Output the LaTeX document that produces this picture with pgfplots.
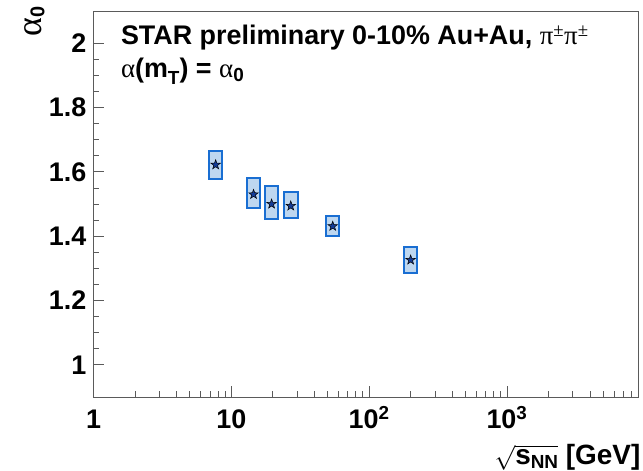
\documentclass[border=0pt]{standalone}
\usepackage{pgfplots}
\pgfplotsset{compat=1.18}
\usepackage{pgfplotstable}
\usepackage{fontspec}
\setmainfont{Liberation Sans}
\newfontfamily\greekfont{Liberation Serif}

\definecolor{boxfill}{RGB}{190,215,240}
\definecolor{boxline}{RGB}{25,110,210}
\definecolor{starfill}{RGB}{20,60,150}
\definecolor{framecol}{RGB}{90,90,90}

% filled five-pointed star marker
\pgfdeclareplotmark{fstar}{%
  \pgfpathmoveto{\pgfpointpolar{90}{\pgfplotmarksize}}%
  \pgfpathlineto{\pgfpointpolar{126}{0.4\pgfplotmarksize}}%
  \pgfpathlineto{\pgfpointpolar{162}{\pgfplotmarksize}}%
  \pgfpathlineto{\pgfpointpolar{198}{0.4\pgfplotmarksize}}%
  \pgfpathlineto{\pgfpointpolar{234}{\pgfplotmarksize}}%
  \pgfpathlineto{\pgfpointpolar{270}{0.4\pgfplotmarksize}}%
  \pgfpathlineto{\pgfpointpolar{306}{\pgfplotmarksize}}%
  \pgfpathlineto{\pgfpointpolar{342}{0.4\pgfplotmarksize}}%
  \pgfpathlineto{\pgfpointpolar{18}{\pgfplotmarksize}}%
  \pgfpathlineto{\pgfpointpolar{54}{0.4\pgfplotmarksize}}%
  \pgfpathclose
  \pgfusepathqfillstroke
}

% sqrt(s_NN) [GeV], alpha_0, systematic range (lo, hi)
\pgfplotstableread{
x     y      lo     hi
7.7   1.622  1.578  1.666
14.5  1.530  1.488  1.580
19.6  1.500  1.452  1.555
27.0  1.494  1.457  1.536
54.4  1.431  1.400  1.462
200   1.326  1.285  1.367
}\alphadata

\newcommand{\bigfont}{\bfseries\fontsize{27}{27}\selectfont}
\newcommand{\labfont}{\bfseries\fontsize{28}{28}\selectfont}

\begin{document}
\begin{tikzpicture}
\path[use as bounding box] (-93.5bp,-74bp) rectangle (549.5bp,397bp);
\begin{axis}[
  at={(0,0)}, anchor=south west,
  scale only axis, width=545bp, height=386bp,
  xmode=log, xmin=1, xmax=9000, ymin=0.9, ymax=2.1,
  axis line style={framecol, line width=0.8bp},
  tick pos=left, tick align=inside,
  major tick length=11bp, minor tick length=6bp,
  every tick/.style={framecol, line width=0.8bp},
  xtick={1,10,100,1000},
  xticklabels={1,10,10\textsuperscript{2},10\textsuperscript{3}},
  minor xtick={2,3,4,5,6,7,8,9,20,30,40,50,60,70,80,90,200,300,400,500,600,700,800,900,2000,3000,4000,5000,6000,7000,8000,9000},
  ytick={1,1.2,1.4,1.6,1.8,2},
  yticklabels={1,1.2,1.4,1.6,1.8,2},
  minor y tick num=3,
  tick label style={font=\bigfont},
  xticklabel style={anchor=base, inner sep=0pt, yshift=-31bp},
  yticklabel style={anchor=east, inner sep=0pt, xshift=-7bp},
]
\pgfplotsinvokeforeach{0,...,5}{
  \pgfplotstablegetelem{#1}{x}\of\alphadata \let\xv\pgfplotsretval
  \pgfplotstablegetelem{#1}{lo}\of\alphadata \let\lov\pgfplotsretval
  \pgfplotstablegetelem{#1}{hi}\of\alphadata \let\hiv\pgfplotsretval
  \pgfmathsetmacro\xl{\xv/1.12}
  \pgfmathsetmacro\xr{\xv*1.12}
  \edef\drawbox{\noexpand\addplot[fill=boxfill, draw=boxline, line width=2bp]
    coordinates {(\xl,\lov) (\xr,\lov) (\xr,\hiv) (\xl,\hiv)} --cycle;}
  \drawbox
}
\addplot[only marks, mark=fstar, mark size=5bp,
  mark options={fill=starfill, draw=black, line width=0.5bp}]
  table[x=x, y=y] {\alphadata};

\node[anchor=base west, font=\bigfont, xshift=24bp, yshift=-34bp]
  at (rel axis cs:0,1)
  {STAR preliminary 0-10\% Au+Au, {\greekfont\mdseries π\textsuperscript{±}π\textsuperscript{±}}};
\node[anchor=base west, font=\bigfont, xshift=24bp, yshift=-67bp]
  at (rel axis cs:0,1)
  {{\greekfont\mdseries α}(m\raisebox{-0.45ex}{\fontsize{19}{19}\selectfont T}) = {\greekfont\mdseries α}\raisebox{-0.25ex}{\fontsize{19}{19}\selectfont 0}};
\end{axis}
% axis titles
\node[rotate=90, anchor=base east, font=\bigfont] at (-52bp,394bp)
  {{\greekfont\mdseries\fontsize{36}{36}\selectfont α}\raisebox{-0.2ex}{\fontsize{20}{20}\selectfont 0}};
\node[anchor=base east, font=\labfont, inner sep=0pt] at (547bp,-67bp)
  {$\sqrt{\mbox{\labfont s\raisebox{-0.3ex}{\fontsize{19}{19}\selectfont NN}}}$ [GeV]};
\end{tikzpicture}
\end{document}
